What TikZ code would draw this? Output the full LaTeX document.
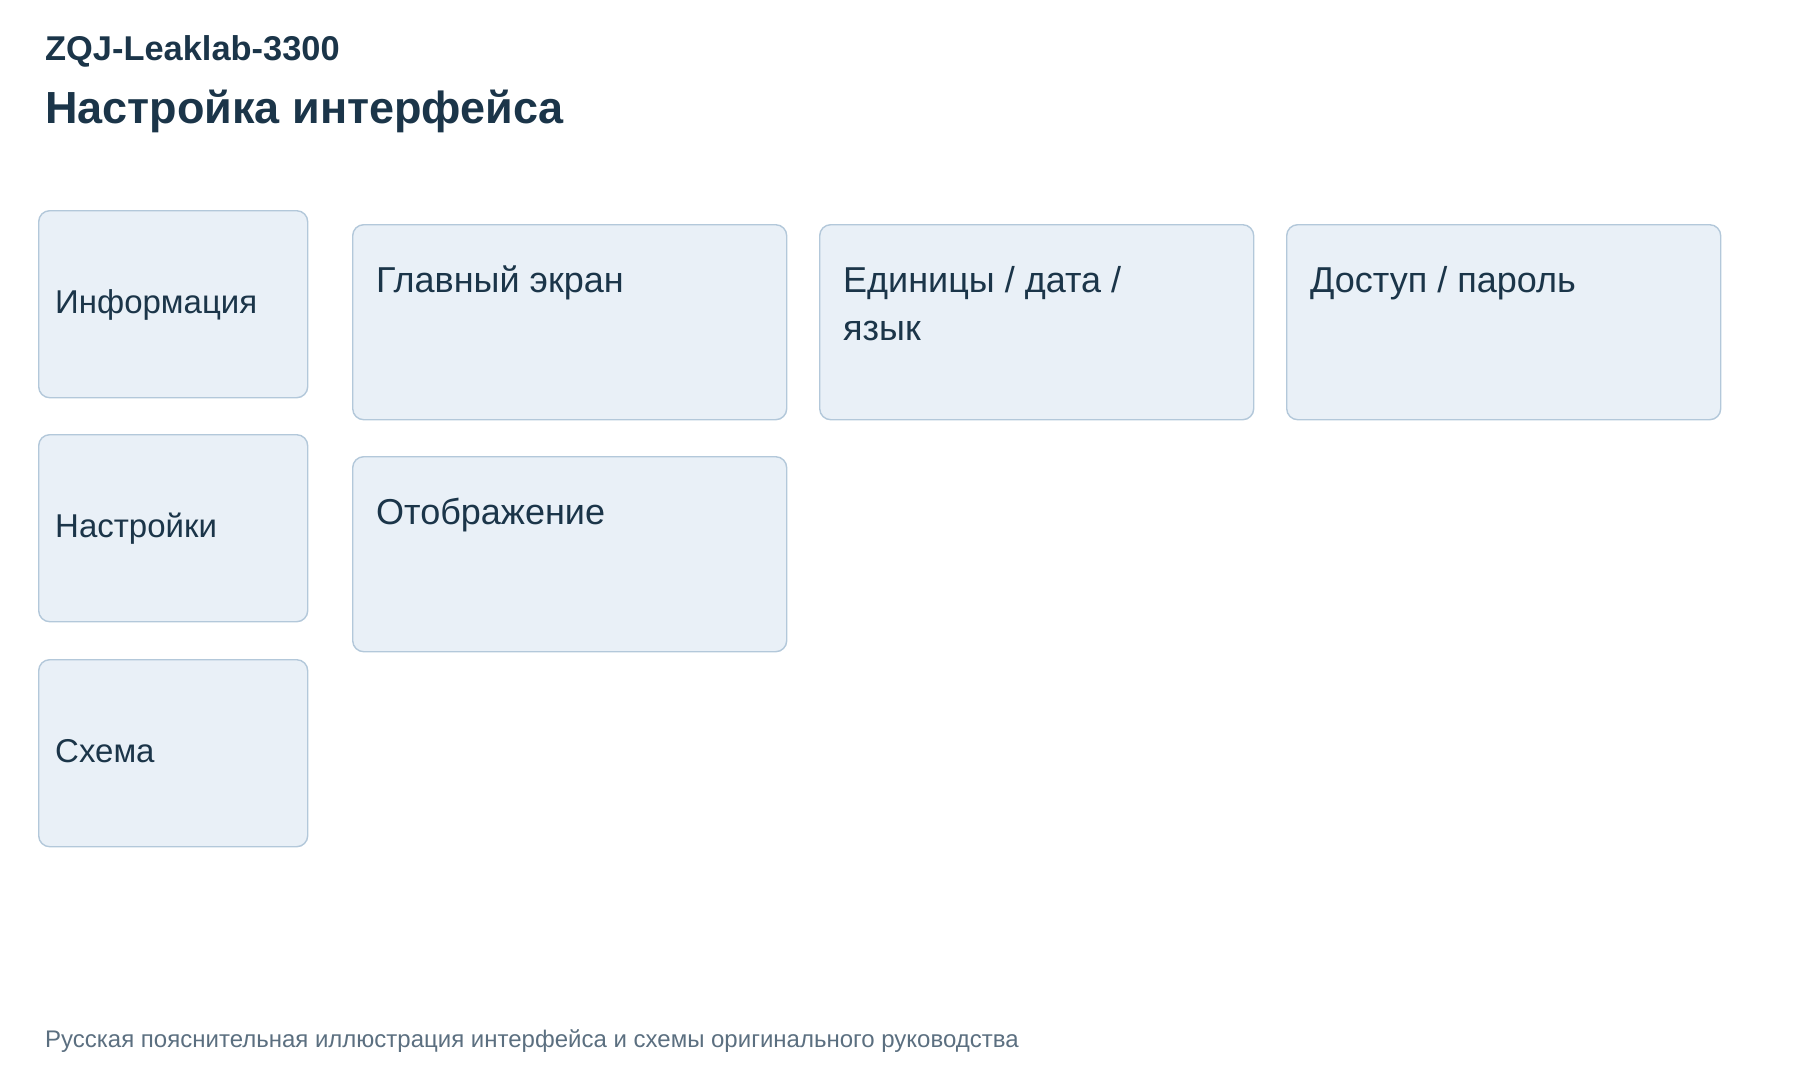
\documentclass[tikz,border=0pt]{standalone}
\usepackage{fontspec}
\setmainfont{Liberation Sans}
\definecolor{ink}{HTML}{1B3549}
\definecolor{boxfill}{HTML}{E9F0F7}
\definecolor{boxline}{HTML}{B3C8DA}
\definecolor{foot}{HTML}{5B6F80}
\tikzset{
  panel/.style={draw=boxline, fill=boxfill, line width=1.4pt, rounded corners=11pt, inner sep=0pt, anchor=north west},
  sidebox/.style={panel, minimum width=269pt, minimum height=187pt},
  bigbox/.style={panel, minimum width=434pt, minimum height=195pt},
  sidelabel/.style={text=ink, font=\fontsize{33}{40}\selectfont, anchor=base west, inner sep=0pt},
  biglabel/.style={text=ink, font=\fontsize{36}{48}\selectfont, anchor=base west, inner sep=0pt, align=left},
}
\begin{document}
\begin{tikzpicture}[x=1pt,y=-1pt]
\useasboundingbox (0,0) rectangle (1800,1080);
\node[text=ink, font=\bfseries\fontsize{34.4}{40}\selectfont, anchor=base west, inner sep=0pt] (sub) at (45,60) {ZQJ-Leaklab-3300};
\node[text=ink, font=\bfseries\fontsize{45}{54}\selectfont, anchor=base west, inner sep=0pt] (title) at (45,123) {Настройка интерфейса};

\node[sidebox] (info) at (38,210) {};
\node[sidebox] (sett) at (38,434) {};
\node[sidebox] (scheme) at (38,659) {};
\node[sidelabel] at ([xshift=17pt,yshift=-9pt]info.west) {Информация};
\node[sidelabel] at ([xshift=17pt,yshift=-9pt]sett.west) {Настройки};
\node[sidelabel] at ([xshift=17pt,yshift=-9pt]scheme.west) {Схема};

\node[bigbox] (main) at (352,224) {};
\node[bigbox] (units) at (819,224) {};
\node[bigbox] (access) at (1286,224) {};
\node[bigbox] (disp) at (352,456) {};
\node[biglabel] at ([xshift=24pt,yshift=-68pt]main.north west) {Главный экран};
\node[biglabel] at ([xshift=24pt,yshift=-116pt]units.north west) {Единицы / дата /\\язык};
\node[biglabel] at ([xshift=24pt,yshift=-68pt]access.north west) {Доступ / пароль};
\node[biglabel] at ([xshift=24pt,yshift=-68pt]disp.north west) {Отображение};

\node[text=foot, font=\fontsize{24}{28}\selectfont, anchor=base west, inner sep=0pt] (footer) at (45,1047) {Русская пояснительная иллюстрация интерфейса и схемы оригинального руководства};
\end{tikzpicture}
\end{document}
